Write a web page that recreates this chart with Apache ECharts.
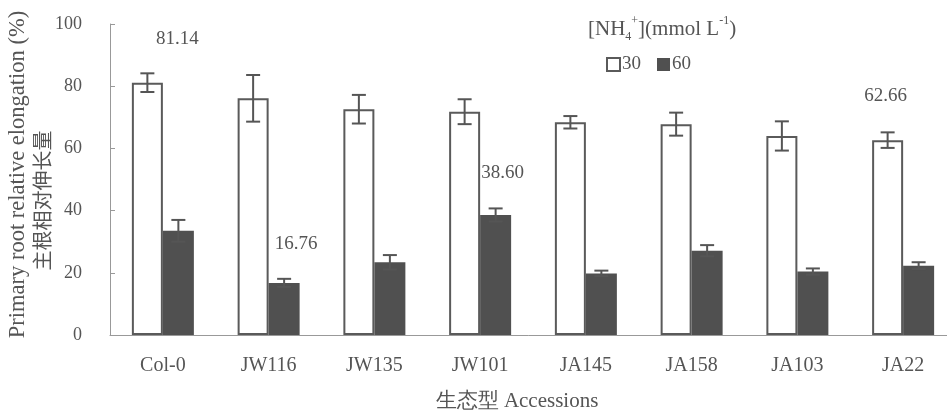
<!DOCTYPE html>
<html>
<head>
<meta charset="utf-8">
<script src="https://cdn.jsdelivr.net/npm/echarts@6/dist/echarts.min.js"></script>
<style>html,body{margin:0;padding:0;background:#fff}#c{width:947px;height:410px}</style>
</head>
<body>
<div id="c"></div>
<script>
var categories = ['Col-0', 'JW116', 'JW135', 'JW101', 'JA145', 'JA158', 'JA103', 'JA22'];
var val30 = [81.14, 76.1, 72.6, 71.8, 68.4, 67.8, 64.0, 62.66];
var err30 = [3.0, 7.5, 4.6, 4.0, 2.0, 3.7, 4.7, 2.5];
var val60 = [33.5, 16.76, 23.4, 38.60, 19.8, 27.1, 20.4, 22.3];
var err60 = [3.5, 1.3, 2.3, 2.1, 0.9, 1.8, 1.0, 1.1];
var yTicks = [0, 20, 40, 60, 80, 100];
var seriesNames = ['30', '60'];
var legendTitle = '[NH{sub|4}{sup|+}](mmol L{sup|-1})';
var annotated30 = [0, 7];
var annotated60 = [1, 3];

var FONT = "'Liberation Serif','Times New Roman',serif";
var TXT = '#555';
var BW = 31;

function barData(vals, annotated, offsets) {
  return vals.map(function (v, i) {
    var k = annotated.indexOf(i);
    if (k < 0) return v;
    return {
      value: v,
      label: {
        show: true, position: 'top', offset: offsets[k],
        formatter: function (p) { return p.value.toFixed(2); },
        fontFamily: FONT, fontSize: 19, color: TXT
      }
    };
  });
}

function errSeries(vals, errs, dx, color) {
  return {
    type: 'custom',
    z: 5,
    silent: true,
    data: vals.map(function (v, i) { return [i, v, errs[i]]; }),
    renderItem: function (params, api) {
      var i = api.value(0), v = api.value(1), e = api.value(2);
      var hi = api.coord([i, v + e]);
      var lo = api.coord([i, v - e]);
      var x = hi[0] + dx;
      var cap = 7;
      var st = { stroke: color, lineWidth: 2 };
      return {
        type: 'group',
        children: [
          { type: 'line', shape: { x1: x, y1: hi[1], x2: x, y2: lo[1] }, style: st },
          { type: 'line', shape: { x1: x - cap, y1: hi[1], x2: x + cap, y2: hi[1] }, style: st },
          { type: 'line', shape: { x1: x - cap, y1: lo[1], x2: x + cap, y2: lo[1] }, style: st }
        ]
      };
    }
  };
}

var chart = echarts.init(document.getElementById('c'), null, { renderer: 'canvas' });
chart.setOption({
  backgroundColor: '#fff',
  animation: false,
  title: {
    text: legendTitle,
    left: 583, top: 10,
    textStyle: {
      fontFamily: FONT, fontSize: 21, color: TXT, fontWeight: 'normal', lineHeight: 28,
      rich: {
        sub: { fontFamily: FONT, fontSize: 12, color: TXT, verticalAlign: 'bottom', lineHeight: 15 },
        sup: { fontFamily: FONT, fontSize: 12, color: TXT, verticalAlign: 'top', lineHeight: 15 }
      }
    }
  },
  legend: {
    data: seriesNames,
    left: 601, top: 50,
    icon: 'rect',
    itemWidth: 13, itemHeight: 13,
    itemGap: 16,
    textStyle: { fontFamily: FONT, fontSize: 19, color: TXT, padding: [0, 0, 0, -3] }
  },
  grid: { left: 110, top: 24, width: 846, bottom: 75, containLabel: false, outerBoundsMode: 'none' },
  xAxis: {
    type: 'category',
    data: categories,
    name: '生态型 Accessions',
    nameLocation: 'middle',
    nameGap: 56,
    nameTextStyle: { fontFamily: FONT, fontSize: 21, color: TXT, padding: [0, 32, 0, 0] },
    axisLine: { lineStyle: { color: '#999', width: 1 } },
    axisTick: { inside: true, length: 5, lineStyle: { color: '#999' } },
    axisLabel: { fontFamily: FONT, fontSize: 20, color: TXT, margin: 21 }
  },
  yAxis: {
    type: 'value',
    min: yTicks[0], max: yTicks[yTicks.length - 1], interval: 20,
    name: '{en|Primary root relative elongation (%)}\n{zh|主根相对伸长量}',
    nameLocation: 'middle',
    nameRotate: 90,
    nameGap: 56,
    nameMoveOverlap: false,
    nameTextStyle: {
      color: TXT,
      rich: {
        en: { fontFamily: FONT, fontSize: 22.5, color: TXT, lineHeight: 24, padding: [0, 0, 0, 10] },
        zh: { fontFamily: "'Noto Sans CJK SC'," + FONT, fontSize: 20, color: TXT, lineHeight: 24, padding: [0, 42, 0, 0] }
      }
    },
    axisLine: { show: true, lineStyle: { color: '#999', width: 1 } },
    axisTick: { show: true, inside: true, length: 5, lineStyle: { color: '#999' } },
    splitLine: { show: false },
    axisLabel: { fontFamily: FONT, fontSize: 18, color: TXT, margin: 28 }
  },
  series: [
    {
      name: seriesNames[0], type: 'bar', barWidth: BW, barGap: '0%',
      itemStyle: { color: '#fff', borderColor: '#5a5a5a', borderWidth: 2 },
      data: barData(val30, annotated30, [[30, -29], [-2, -30]])
    },
    {
      name: seriesNames[1], type: 'bar', barWidth: BW, barGap: '0%',
      itemStyle: { color: '#505050', borderColor: '#505050', borderWidth: 0 },
      data: barData(val60, annotated60, [[12, -24], [7, -27]])
    },
    errSeries(val30, err30, -BW / 2, '#555'),
    errSeries(val60, err60, BW / 2, '#555')
  ]
});
</script>
</body>
</html>
